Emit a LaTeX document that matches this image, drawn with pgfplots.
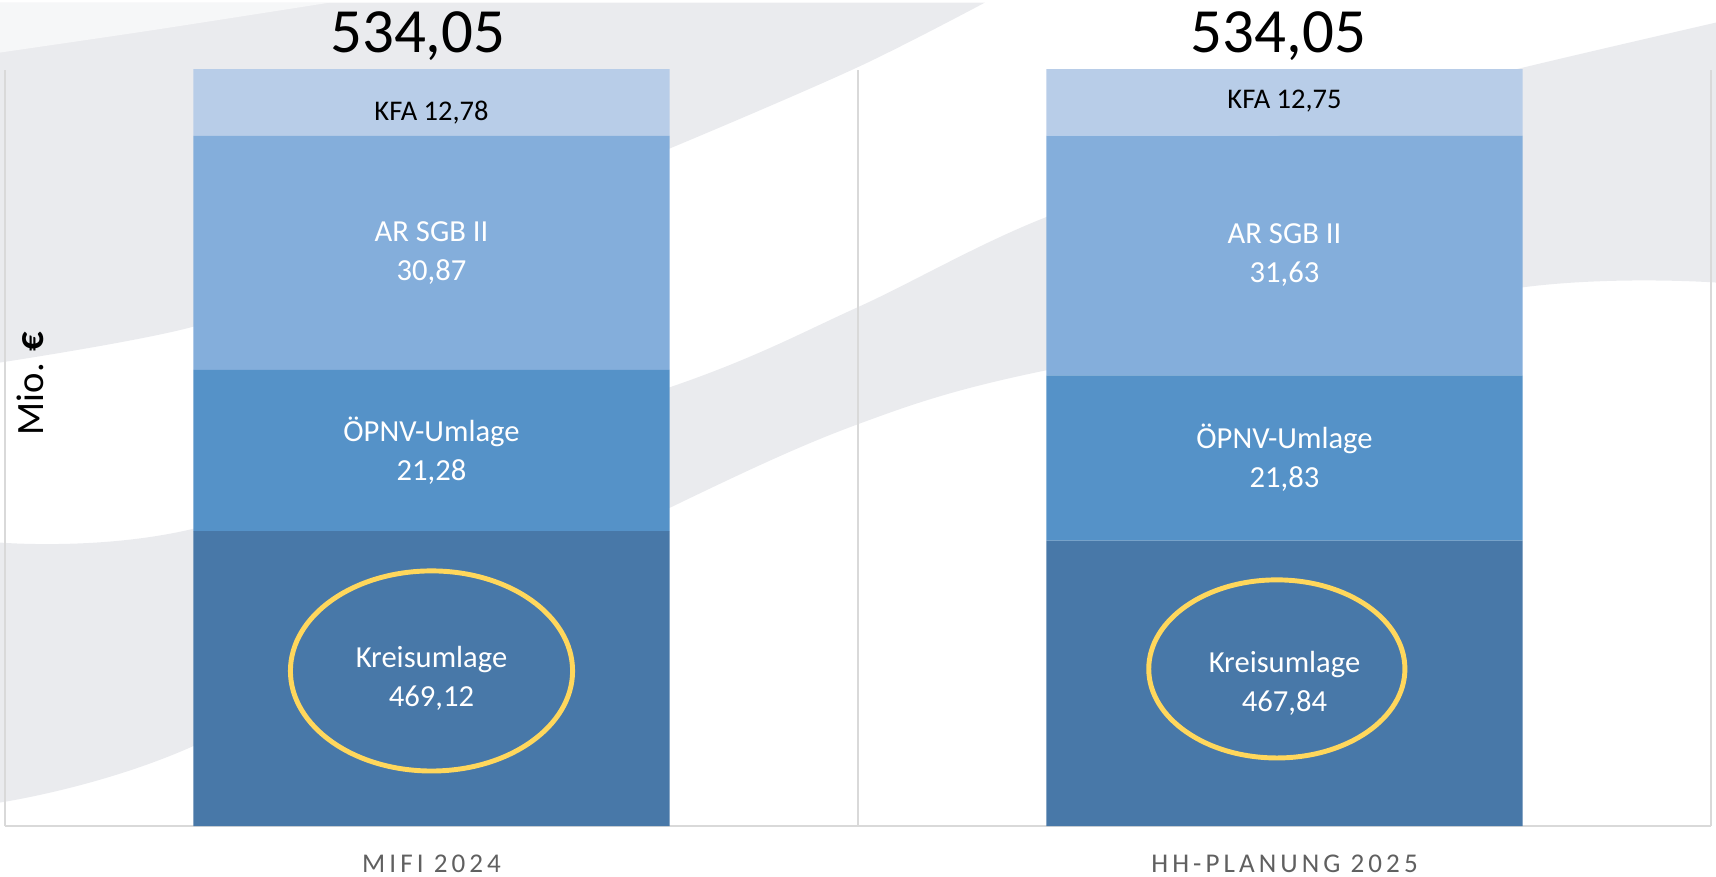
\documentclass[border=0pt]{standalone}
\usepackage{fontspec}
\setmainfont{Carlito}
\newfontfamily\tickfont[LetterSpace=15]{Carlito}
\usepackage{pgfplots}
\pgfplotsset{compat=1.18}

\definecolor{kreis}{HTML}{4878A8}
\definecolor{oepnv}{HTML}{5592C8}
\definecolor{arsgb}{HTML}{84AEDB}
\definecolor{kfa}{HTML}{B8CDE8}
\definecolor{swoosh}{HTML}{EAEBEE}
\definecolor{ring}{HTML}{FFD75C}
\definecolor{frame}{HTML}{D9D9D9}
\definecolor{tickgray}{HTML}{606060}

\tikzset{
  lbl/.style={font=\fontsize{8.7}{11.1}\selectfont, text=white, align=center},
  kfalbl/.style={font=\fontsize{8.1}{10}\selectfont, text=black},
  total/.style={font=\fontsize{17.9}{20}\selectfont, anchor=base},
  ring/.style={draw=ring, line width=1.4pt},
}

\begin{document}
\begin{tikzpicture}
% slide background, in pixels of the 1716x874 frame
\begin{scope}[shift={(-0.05cm,8.23cm)}, x=0.01cm, y=-0.01cm]
  \path[use as bounding box] (0,0) rectangle (1716,874);
  \fill[swoosh] (0,0) -- (985,0) -- plot[smooth] coordinates {(985,0) (857,65) (660,150) (400,255) (190,325) (0,360)} -- cycle;
  \fill[white, opacity=0.6] (0,0) -- (330,0) -- plot[smooth] coordinates {(330,0) (150,28) (0,50)} -- cycle;
  \fill[swoosh] plot[smooth] coordinates {(0,540) (190,527) (660,388) (857,305) (1045,215) (1350,110) (1515,67) (1716,20)}
    -- (1716,280) -- plot[smooth] coordinates {(1716,280) (1521,285) (1045,368) (857,422) (660,510) (190,745) (0,800)} -- cycle;
\end{scope}

\begin{axis}[
  at={(0,0)}, anchor=south west,
  scale only axis, width=17.05cm, height=7.56cm,
  xmin=-0.5, xmax=1.5, ymin=430.2, ymax=530,
  ybar stacked, bar width=4.76cm,
  clip mode=individual,
  axis lines*=left,
  axis line style={draw=frame, line width=0.7pt},
  ytick=\empty,
  xtick={0,1},
  xticklabels={MIFI 2024, HH-PLANUNG 2025},
  major tick length=0pt,
  xticklabel style={font=\tickfont\fontsize{7.7}{9}\selectfont, text=tickgray, anchor=north, inner sep=0pt, yshift=-0.28cm},
  extra x ticks={0.5,1.5},
  extra x tick labels={{},{}},
  extra x tick style={grid=major, major grid style={draw=frame, line width=0.7pt}},
  ylabel={Mio. \textbf{€}},
  ylabel style={at={(rel axis cs:0.0147,0.585)}, anchor=center, font=\fontsize{11}{13}\selectfont},
  after end axis/.code={
    \node[kfalbl] at (axis cs:0,524.3) {KFA 12,78};
    \node[lbl] at (axis cs:0,505.8) {AR SGB II\\30,87};
    \node[lbl] at (axis cs:0,479.76) {ÖPNV-Umlage\\21,28};
    \node[lbl] at (axis cs:0,449.7) {Kreisumlage\\469,12};
    \draw[ring] (axis cs:0,450.66) ellipse [x radius=1.41cm, y radius=1cm];
    \node[kfalbl] at (axis cs:1,525.8) {KFA 12,75};
    \node[lbl] at (axis cs:1,505.5) {AR SGB II\\31,63};
    \node[lbl] at (axis cs:1,478.75) {ÖPNV-Umlage\\21,83};
    \node[lbl] at (axis cs:1,449.0) {Kreisumlage\\467,84};
    \draw[ring] (axis cs:0.991,450.93) ellipse [x radius=1.28cm, y radius=0.89cm];
    \node[total] at (axis cs:-0.016,532.25) {534,05};
    \node[total] at (axis cs:0.993,532.25) {534,05};
  },
]
\addplot[fill=kreis, draw=none] coordinates {(0,469.12) (1,467.84)};
\addplot[fill=oepnv, draw=none] coordinates {(0,21.28) (1,21.83)};
\addplot[fill=arsgb, draw=none] coordinates {(0,30.87) (1,31.63)};
\addplot[fill=kfa, draw=none] coordinates {(0,12.78) (1,12.75)};
\end{axis}
\end{tikzpicture}
\end{document}
